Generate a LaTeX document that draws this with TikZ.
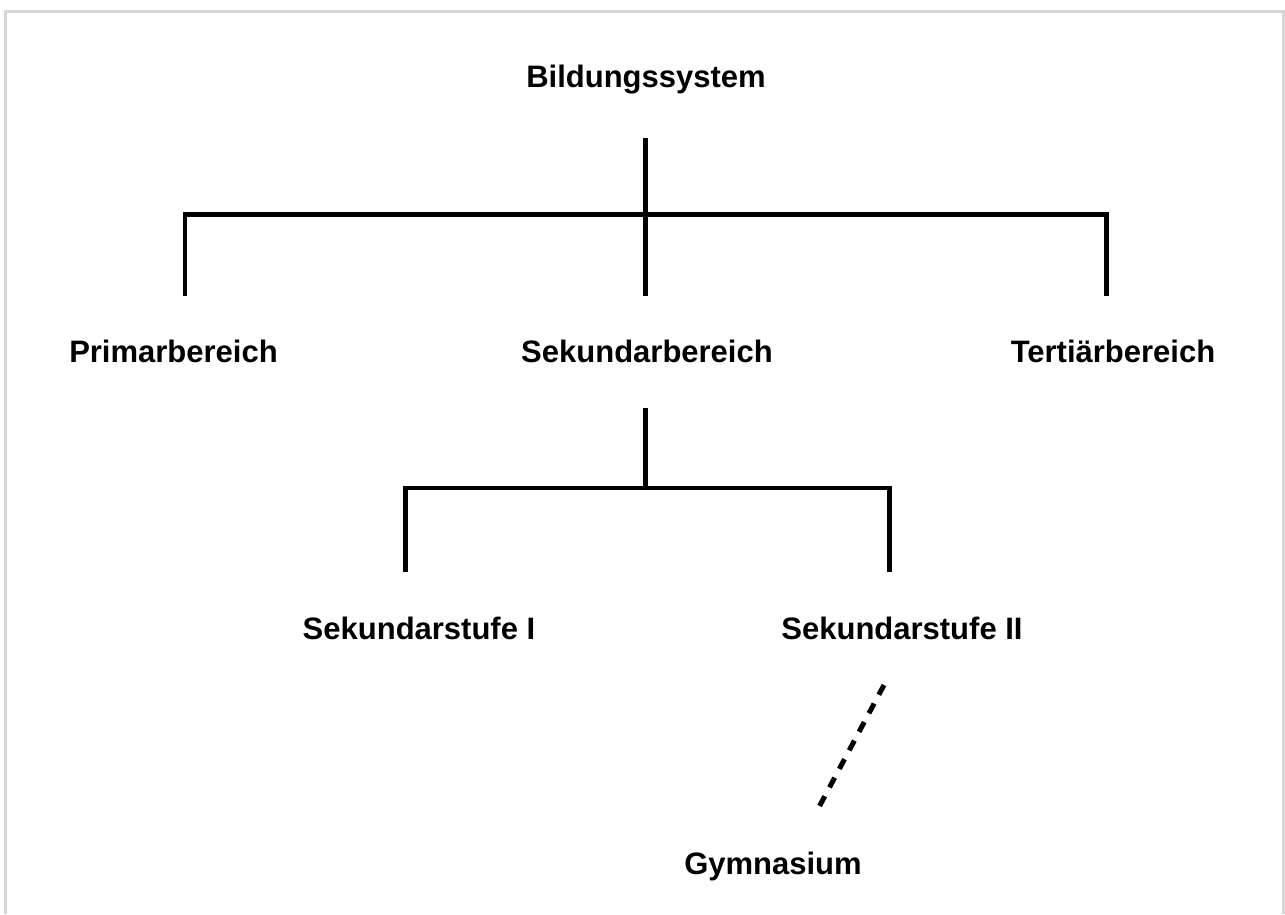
\documentclass[tikz,border=0pt]{standalone}
\usepackage{fontspec}
\setmainfont{Liberation Sans}
\begin{document}
\begin{tikzpicture}[x=1pt,y=-1pt,
  label/.style={font=\fontsize{31}{36}\selectfont\bfseries, inner sep=0pt, anchor=base},
  branch/.style={line width=4.6pt, line join=miter, line cap=butt},
  dashlink/.style={line width=5pt, dash pattern=on 11pt off 10pt},
  frame/.style={line width=2.5pt, draw=black!16}]
  \useasboundingbox (0,0) rectangle (1285,914);
  % light frame, open at the bottom
  \draw[frame] (5.5,914) -- (5.5,11.5) -- (1283.5,11.5) -- (1283.5,914);

  % labels
  \node[label] (bild) at (646,87) {Bildungssystem};
  \node[label] (prim) at (173.5,362) {Primarbereich};
  \node[label] (sek)  at (647,362) {Sekundarbereich};
  \node[label] (tert) at (1113,362) {Tertiärbereich};
  \node[label] (sek1) at (419,639) {Sekundarstufe I};
  \node[label] (sek2) at (902,639) {Sekundarstufe II};
  \node[label] (gym)  at (773,874) {Gymnasium};

  % first level bracket
  \coordinate (t1) at (645.5,138);
  \coordinate (bar1) at (645.5,214.5);
  \coordinate (l1) at (185,296);
  \coordinate (m1) at (645.5,296);
  \coordinate (r1) at (1106.5,296);
  \draw[branch] (t1) -- (m1);
  \draw[branch] (l1) -- (l1 |- bar1) -- (r1 |- bar1) -- (r1);

  % second level bracket
  \coordinate (t2) at (645.5,408);
  \coordinate (bar2) at (645.5,488);
  \coordinate (l2) at (405.5,572);
  \coordinate (r2) at (889.5,572);
  \draw[branch] (t2) -- (bar2);
  \draw[branch] (l2) -- (l2 |- bar2) -- (r2 |- bar2) -- (r2);

  % dashed link to Gymnasium
  \coordinate (d1) at (884,685);
  \coordinate (d2) at (818.5,808);
  \draw[dashlink] (d1) -- (d2);
\end{tikzpicture}
\end{document}
